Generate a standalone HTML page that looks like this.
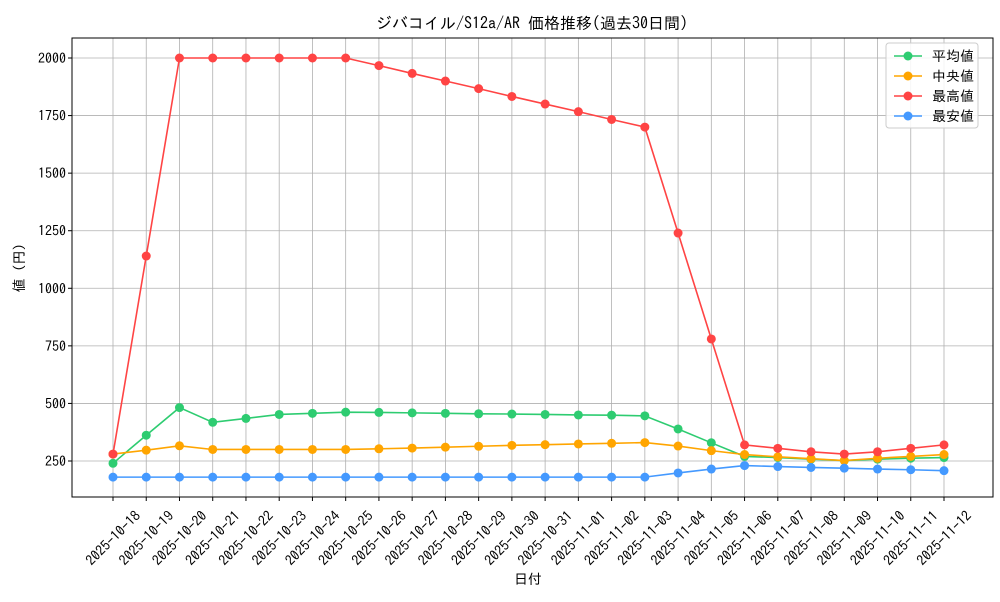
<!DOCTYPE html>
<html><head><meta charset="utf-8"><style>
body{margin:0;background:#fff;font-family:"IPAGothic","Noto Sans CJK JP",sans-serif}
svg text{font-family:"IPAGothic","Noto Sans CJK JP",monospace;fill:#000}
</style></head><body>
<svg id="chart" width="1000" height="600" xmlns="http://www.w3.org/2000/svg">
<rect width="1000" height="600" fill="#fff"/>
<text x="532" y="29" font-size="16" text-anchor="middle">ジバコイル/S12a/AR 価格推移(過去30日間)</text>
<g id="grid"></g><g id="axes"></g><g id="series"></g>
<text x="528" y="584" font-size="14" text-anchor="middle">日付</text>
<text transform="translate(24,268) rotate(-90)" font-size="14" text-anchor="middle">値 (円)</text>
<g id="legend"></g>
</svg>
<script>
const dates=["2025-10-18","2025-10-19","2025-10-20","2025-10-21","2025-10-22","2025-10-23","2025-10-24","2025-10-25","2025-10-26","2025-10-27","2025-10-28","2025-10-29","2025-10-30","2025-10-31","2025-11-01","2025-11-02","2025-11-03","2025-11-04","2025-11-05","2025-11-06","2025-11-07","2025-11-08","2025-11-09","2025-11-10","2025-11-11","2025-11-12"];
const avgValues=[240,362,482,418,435,452,457,462,461,459,457,455,454,452,450,449,446,389,329,270,265,258,252,258,262,265];
const medianValues=[280,297,316,300,300,300,300,300,303,306,310,314,318,321,324,327,330,315,295,278,268,260,252,262,270,278];
const maxValues=[280,1140,2000,2000,2000,2000,2000,2000,1967,1933,1900,1867,1833,1800,1767,1733,1700,1240,780,320,305,290,280,290,305,320];
const minValues=[180,180,180,180,180,180,180,180,180,180,180,180,180,180,180,180,180,198,215,230,226,222,219,215,212,208];
const yTicks=[250,500,750,1000,1250,1500,1750,2000];
const seriesNames=["平均値","中央値","最高値","最安値"];
const seriesColors=["#2ecc71","#ffa500","#ff4444","#4499ff"];
const NS="http://www.w3.org/2000/svg";
const L=72,R=993,T=38,B=497;
const xScale=i=>113+i*(944-113)/(dates.length-1);
const yScale=v=>461-(v-250)*(403/1750);
function mk(tag,attrs,parent){const e=document.createElementNS(NS,tag);for(const k in attrs)e.setAttribute(k,attrs[k]);parent.appendChild(e);return e;}
const grid=document.getElementById('grid'),axes=document.getElementById('axes'),ser=document.getElementById('series'),leg=document.getElementById('legend');
dates.forEach((d,i)=>{const x=xScale(i);
 const g=mk('line',{x1:x,x2:x,y1:T,y2:B,stroke:'#b0b0b0','stroke-width':0.8},grid);
 
 
 mk('line',{x1:x,x2:x,y1:B,y2:B+4,stroke:'#000'},axes);
 const t=mk('text',{x:x,y:538,'font-size':14,'text-anchor':'middle','dominant-baseline':'central',transform:`rotate(-45 ${x} 538)`},axes);
 
 
 t.textContent=d;});
yTicks.forEach(v=>{const y=yScale(v);
 const g=mk('line',{x1:L,x2:R,y1:y,y2:y,stroke:'#b0b0b0','stroke-width':0.8},grid);
 
 
 mk('line',{x1:L-4,x2:L,y1:y,y2:y,stroke:'#000'},axes);
 const t=mk('text',{x:L-6,y:y+5,'font-size':14,'text-anchor':'end'},axes);
 
 
 t.textContent=v;});
const frame=mk('rect',{x:L,y:T,width:R-L,height:B-T,fill:'none',stroke:'#000','stroke-width':1},axes);


[avgValues,medianValues,maxValues,minValues].forEach((vals,s)=>{
 const pl=mk('polyline',{points:vals.map((v,i)=>xScale(i)+','+yScale(v)).join(' '),fill:'none',stroke:seriesColors[s],'stroke-width':1.6},ser);
 
 
 vals.forEach((v,i)=>{const c=mk('circle',{cx:xScale(i),cy:yScale(v),r:4.5,fill:seriesColors[s]},ser);
  
  });
});
const lb=mk('rect',{x:886,y:43,width:92,height:85,rx:3,fill:'#fff','fill-opacity':0.85,stroke:'#ccc'},leg);


seriesNames.forEach((n,s)=>{const y=56+s*20;
 const g=mk('g',{},leg);
 
 
 mk('line',{x1:894,x2:922,y1:y,y2:y,stroke:seriesColors[s],'stroke-width':1.6},g);
 mk('circle',{cx:908,cy:y,r:4.5,fill:seriesColors[s]},g);
 const t=mk('text',{x:932,y:y+5,'font-size':14},g);t.textContent=n;});
</script>
</body></html>
